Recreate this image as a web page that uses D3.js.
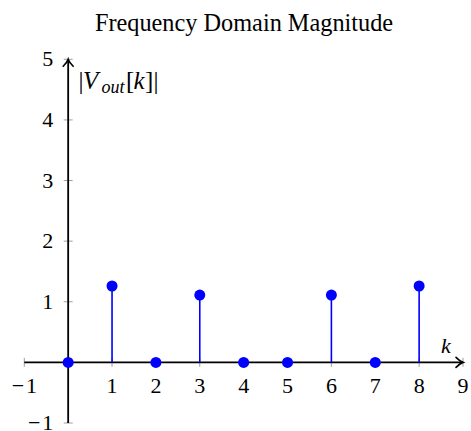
<!DOCTYPE html>
<html>
<head>
<meta charset="utf-8">
<script src="https://cdn.jsdelivr.net/npm/d3@7"></script>
<style>
  body { margin: 0; background: #fff; }
</style>
</head>
<body>
<div id="chart"></div>
<script>
// data
const kValues = [0, 1, 2, 3, 4, 5, 6, 7, 8];
const magnitudes = [0, 1.26, 0, 1.11, 0, 0, 1.11, 0, 1.26];
const xTicks = [-1, 1, 2, 3, 4, 5, 6, 7, 8, 9];
const yTicks = [-1, 1, 2, 3, 4, 5];
const title = "Frequency Domain Magnitude";

const FONT = "'Liberation Serif', 'Times New Roman', Times, Tinos, 'Noto Serif', 'DejaVu Serif', serif";

const width = 471, height = 431;
const svg = d3.select("#chart").append("svg")
  .attr("width", width)
  .attr("height", height)
  .attr("font-family", FONT);

const x = d3.scaleLinear().domain([-1, 9]).range([24.3, 463]);
const y = d3.scaleLinear().domain([-1, 5]).range([423, 59.3]);

const BLUE = "#0000ff";
const fmt = d => d < 0 ? "\u2212\u200a" + Math.abs(d) : d;

// title
svg.append("text")
  .attr("x", 244)
  .attr("y", 30.5)
  .attr("text-anchor", "middle")
  .attr("font-size", "24.3px")
  .text(title);

// tick marks (crossing the axes)
const tickColor = "#888";
svg.append("g").selectAll("line")
  .data(xTicks)
  .join("line")
  .attr("x1", d => x(d)).attr("x2", d => x(d))
  .attr("y1", y(0) - 4.5).attr("y2", y(0) + 4.5)
  .attr("stroke", tickColor).attr("stroke-width", 0.8);

svg.append("g").selectAll("line")
  .data(yTicks)
  .join("line")
  .attr("y1", d => y(d)).attr("y2", d => y(d))
  .attr("x1", x(0) - 4.5).attr("x2", x(0) + 4.5)
  .attr("stroke", tickColor).attr("stroke-width", 0.8);

// axes
svg.append("line")
  .attr("x1", x(-1)).attr("x2", x(9) - 1)
  .attr("y1", y(0)).attr("y2", y(0))
  .attr("stroke", "#000").attr("stroke-width", 1.8);

svg.append("line")
  .attr("x1", x(0)).attr("x2", x(0))
  .attr("y1", y(-1)).attr("y2", y(5) + 1)
  .attr("stroke", "#000").attr("stroke-width", 1.8);

// arrow heads (latex style)
const ax = x(9), ay = y(0);
svg.append("path")
  .attr("d", `M${ax - 7},${ay - 5} Q${ax - 3},${ay - 1} ${ax},${ay} Q${ax - 3},${ay + 1} ${ax - 7},${ay + 5}`)
  .attr("fill", "none").attr("stroke", "#000").attr("stroke-width", 1.6)
  .attr("stroke-linecap", "round");

const bx = x(0), by = y(5);
svg.append("path")
  .attr("d", `M${bx - 5},${by + 7} Q${bx - 1},${by + 3} ${bx},${by} Q${bx + 1},${by + 3} ${bx + 5},${by + 7}`)
  .attr("fill", "none").attr("stroke", "#000").attr("stroke-width", 1.6)
  .attr("stroke-linecap", "round");

// tick labels
svg.append("g").selectAll("text")
  .data(xTicks)
  .join("text")
  .attr("x", d => x(d))
  .attr("y", y(0) + 31)
  .attr("text-anchor", "middle")
  .attr("font-size", "22px")
  .text(fmt);

svg.append("g").selectAll("text")
  .data(yTicks)
  .join("text")
  .attr("x", x(0) - 15)
  .attr("y", d => y(d) + 7)
  .attr("text-anchor", "end")
  .attr("font-size", "22px")
  .text(fmt);

// axis labels
svg.append("text")
  .attr("x", 441)
  .attr("y", 353)
  .attr("font-size", "22px")
  .attr("font-style", "italic")
  .text("k");

// |V_out[k]| laid out piece by piece, math style spacing
const ylab = svg.append("g").attr("font-size", "25px");
const yb = 89;
ylab.append("text").attr("x", 78.5).attr("y", yb).text("|");
ylab.append("text").attr("x", 83).attr("y", yb).attr("font-style", "italic").text("V");
ylab.append("text").attr("x", 101.5).attr("y", yb + 4).attr("font-style", "italic")
  .attr("font-size", "18px").text("out");
ylab.append("text").attr("x", 126).attr("y", yb).text("[");
ylab.append("text").attr("x", 133.5).attr("y", yb).attr("font-style", "italic").text("k");
ylab.append("text").attr("x", 145).attr("y", yb).text("]");
ylab.append("text").attr("x", 153.5).attr("y", yb).text("|");

// stems
const pts = kValues.map((k, i) => ({ k: k, v: magnitudes[i] }));

svg.append("g").selectAll("line")
  .data(pts)
  .join("line")
  .attr("x1", d => x(d.k)).attr("x2", d => x(d.k))
  .attr("y1", y(0)).attr("y2", d => y(d.v))
  .attr("stroke", BLUE).attr("stroke-width", 1.6);

svg.append("g").selectAll("circle")
  .data(pts)
  .join("circle")
  .attr("cx", d => x(d.k))
  .attr("cy", d => y(d.v))
  .attr("r", 5.5)
  .attr("fill", BLUE);
</script>
</body>
</html>
